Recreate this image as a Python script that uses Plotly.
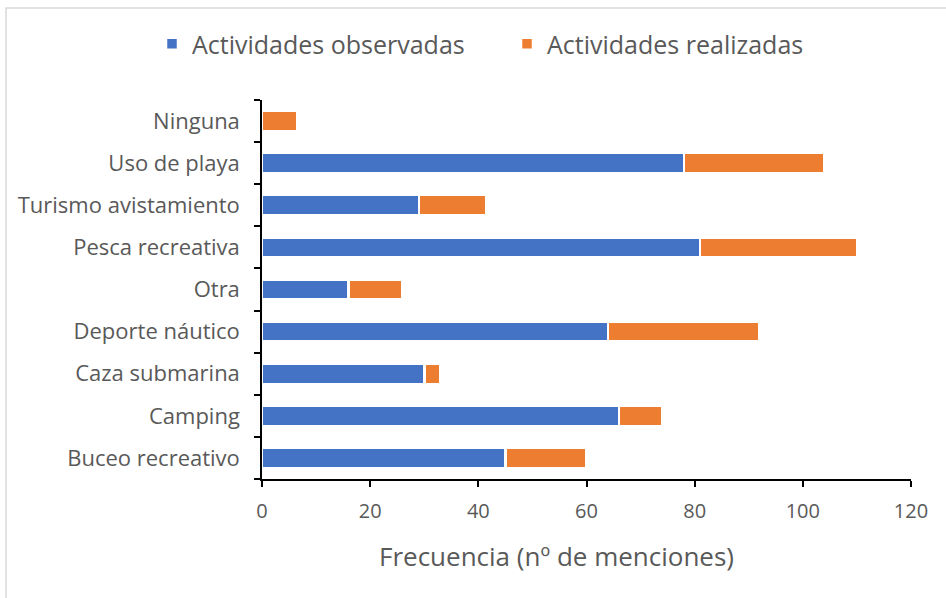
import plotly.graph_objects as go

categories = ["Buceo recreativo", "Camping", "Caza submarina", "Deporte náutico", "Otra",
              "Pesca recreativa", "Turismo avistamiento", "Uso de playa", "Ninguna"]
observadas = [45, 66, 30, 64, 16, 81, 29, 78, 0]
realizadas = [15, 8, 3, 28, 10, 29, 12.5, 26, 6.5]
x_ticks = [0, 20, 40, 60, 80, 100, 120]
x_title = "Frecuencia (nº de menciones)"

FONT = "Open Sans, Noto Sans, sans-serif"
GREY = "#595959"

fig = go.Figure()
fig.add_trace(go.Bar(y=categories, x=observadas, orientation="h", name="Actividades observadas",
                     legend="legend",
                     marker=dict(color="#4472C4", line=dict(color="white", width=2.5))))
fig.add_trace(go.Bar(y=categories, x=realizadas, orientation="h", name="Actividades realizadas",
                     legend="legend2",
                     marker=dict(color="#ED7D31", line=dict(color="white", width=2.5))))

legend_common = dict(orientation="h", xanchor="left", xref="container", yref="container",
                     y=1 - 44 / 598, yanchor="middle", bgcolor="rgba(0,0,0,0)",
                     font=dict(size=25, color=GREY), itemwidth=30)

fig.update_layout(
    barmode="stack",
    bargap=0.52,
    width=946, height=598,
    margin=dict(l=262, r=35, t=100, b=119),
    paper_bgcolor="white", plot_bgcolor="white",
    font=dict(family=FONT, color=GREY, size=20),
    showlegend=True,
    legend=dict(x=152 / 946, **legend_common),
    legend2=dict(x=507 / 946, **legend_common),
    xaxis=dict(range=[0, 120], tickvals=x_ticks, showgrid=False, zeroline=False,
               showline=True, linecolor="black", linewidth=1.5, automargin=False,
               ticks="outside", ticklen=6, tickcolor="black", tickwidth=1.5,
               tickfont=dict(size=20, color=GREY), ticklabelstandoff=7),
    yaxis=dict(showgrid=False, zeroline=False, showline=True, linecolor="black", linewidth=1.5,
               automargin=False,
               ticks="outside", ticklen=6, tickcolor="black", tickwidth=1.5, tickson="boundaries",
               tickfont=dict(size=22, color=GREY), ticklabelstandoff=16),
    annotations=[dict(text=x_title, xref="paper", yref="paper",
                      x=(556 - 262) / 649, y=-(556 - 479) / 379,
                      xanchor="center", yanchor="middle", showarrow=False,
                      font=dict(size=26, color=GREY))],
    shapes=[dict(type="rect", xref="paper", yref="paper",
                 x0=(6 - 262) / 649, x1=(952 - 262) / 649,
                 y0=1 - (604 - 100) / 379, y1=1 + (100 - 8) / 379,
                 line=dict(color="#D9D9D9", width=1.5), layer="below")],
)

fig.write_html("out.html", config={"displayModeBar": False},
               post_script="document.body.style.margin='0';document.body.style.overflow='hidden';")
